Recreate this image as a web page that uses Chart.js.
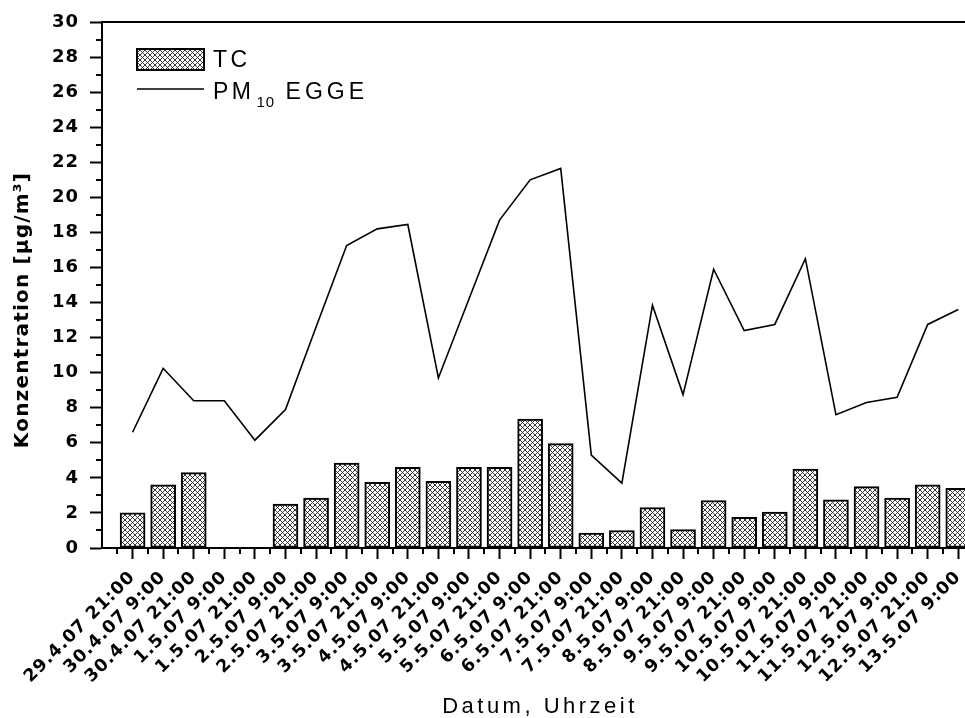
<!DOCTYPE html>
<html>
<head>
<meta charset="utf-8">
<script src="https://cdn.jsdelivr.net/npm/chart.js@4/dist/chart.umd.min.js"></script>
<style>
  html, body { margin: 0; padding: 0; background: #fff; overflow: hidden; }
  #c { display: block; }
</style>
</head>
<body>
<canvas id="c" width="965" height="718"></canvas>
<script>
// ---- data ----
const categories = [
  '29.4.07 21:00', '30.4.07 9:00', '30.4.07 21:00', '1.5.07 9:00', '1.5.07 21:00',
  '2.5.07 9:00', '2.5.07 21:00', '3.5.07 9:00', '3.5.07 21:00', '4.5.07 9:00',
  '4.5.07 21:00', '5.5.07 9:00', '5.5.07 21:00', '6.5.07 9:00', '6.5.07 21:00',
  '7.5.07 9:00', '7.5.07 21:00', '8.5.07 9:00', '8.5.07 21:00', '9.5.07 9:00',
  '9.5.07 21:00', '10.5.07 9:00', '10.5.07 21:00', '11.5.07 9:00', '11.5.07 21:00',
  '12.5.07 9:00', '12.5.07 21:00', '13.5.07 9:00'
];
const tcValues = [
  2.0, 3.6, 4.3, 0, 0,
  2.5, 2.85, 4.85, 3.75, 4.6,
  3.8, 4.6, 4.6, 7.35, 5.95,
  0.85, 1.0, 2.3, 1.05, 2.7,
  1.75, 2.05, 4.5, 2.75, 3.5,
  2.85, 3.6, 3.4
];
const pm10Values = [
  6.6, 10.25, 8.4, 8.4, 6.15,
  7.9, 12.6, 17.25, 18.2, 18.45,
  9.7, 14.2, 18.7, 21.0, 21.65,
  5.3, 3.7, 13.85, 8.75, 15.9,
  12.4, 12.75, 16.5, 7.6, 8.3,
  8.6, 12.75, 13.6
];
const yTicks = [0, 2, 4, 6, 8, 10, 12, 14, 16, 18, 20, 22, 24, 26, 28, 30];
const seriesNames = ['TC', 'PM10 EGGE'];
const xTitle = 'Datum, Uhrzeit';
const yTitle = 'Konzentration [µg/m³]';

// ---- hatch pattern ----
function makeHatch() {
  const s = 5;
  const pc = document.createElement('canvas');
  pc.width = s; pc.height = s;
  const p = pc.getContext('2d');
  p.fillStyle = '#fff';
  p.fillRect(0, 0, s, s);
  p.strokeStyle = '#222';
  p.lineWidth = 0.9;
  p.beginPath();
  p.moveTo(-1, -1); p.lineTo(s + 1, s + 1);
  p.moveTo(s + 1, -1); p.lineTo(-1, s + 1);
  p.stroke();
  return p.createPattern(pc, 'repeat');
}
const ctx = document.getElementById('c').getContext('2d');
const hatch = makeHatch();

const BOLD = '"DejaVu Sans", sans-serif';
const NORMAL = '"Liberation Sans", Arial, sans-serif';

const decorPlugin = {
  id: 'decor',
  beforeLayout(chart) { chart.ctx.letterSpacing = '1px'; },
  beforeDraw(chart) { chart.ctx.letterSpacing = '1px'; },
  afterDraw(chart) {
    const c = chart.ctx;
    const a = chart.chartArea;
    const xs = chart.scales.x, ys = chart.scales.y;
    c.save();
    c.strokeStyle = '#000';
    c.lineWidth = 2;
    // top frame
    c.beginPath();
    c.moveTo(a.left - 1, a.top);
    c.lineTo(a.right, a.top);
    c.stroke();
    // minor ticks x
    c.beginPath();
    for (let v = -0.5; v <= xs.max; v += 1) {
      const px = Math.round(xs.getPixelForValue(v));
      c.moveTo(px, a.bottom);
      c.lineTo(px, a.bottom + 6);
    }
    // minor ticks y
    for (let v = 1; v < 30; v += 2) {
      const py = Math.round(ys.getPixelForValue(v));
      c.moveTo(a.left, py);
      c.lineTo(a.left - 6, py);
    }
    c.stroke();

    // legend
    const lx = 137, lw = 67;
    c.fillStyle = hatch;
    c.fillRect(lx, 49, lw, 21);
    c.lineWidth = 2;
    c.strokeRect(lx, 49, lw, 21);
    c.beginPath();
    c.lineWidth = 1.5;
    c.moveTo(lx, 89);
    c.lineTo(lx + lw, 89);
    c.stroke();
    c.fillStyle = '#000';
    c.textBaseline = 'alphabetic';
    c.textAlign = 'left';
    c.letterSpacing = '3.5px';
    c.font = '23px ' + NORMAL;
    c.fillText(seriesNames[0], 213, 67);
    const parts = ['PM', '10', ' EGGE'];
    let x = 213;
    c.fillText(parts[0], x, 99);
    x += c.measureText(parts[0]).width + 2;
    c.font = '15px ' + NORMAL;
    c.letterSpacing = '1px';
    c.fillText(parts[1], x, 107);
    x += c.measureText(parts[1]).width;
    c.font = '23px ' + NORMAL;
    c.letterSpacing = '4px';
    c.fillText(parts[2], x, 99);

    // x title
    c.font = '22px ' + NORMAL;
    c.letterSpacing = '3.5px';
    c.textAlign = 'center';
    c.fillText(xTitle, 540, 713);

    // y title
    c.save();
    c.translate(23, 310);
    c.rotate(-Math.PI / 2);
    c.font = 'bold 20px ' + BOLD;
    c.letterSpacing = '1.2px';
    c.textAlign = 'center';
    c.textBaseline = 'middle';
    c.fillText(yTitle, 0, 0);
    c.restore();

    c.restore();
  }
};

new Chart(ctx, {
  data: {
    datasets: [
      {
        type: 'line',
        label: seriesNames[1],
        data: pm10Values.map((v, i) => ({ x: i, y: v })),
        borderColor: '#000',
        borderWidth: 1.6,
        pointRadius: 0,
        tension: 0,
        fill: false,
        order: 0
      },
      {
        type: 'bar',
        label: seriesNames[0],
        data: tcValues.map((v, i) => ({ x: i, y: v })),
        backgroundColor: hatch,
        borderColor: '#000',
        borderWidth: 2,
        borderSkipped: false,
        barThickness: 25,
        order: 1
      }
    ]
  },
  options: {
    responsive: false,
    animation: false,
    layout: { padding: { top: 22, right: 0, left: 0, bottom: 0 } },
    plugins: {
      legend: { display: false },
      tooltip: { enabled: false },
      title: { display: false }
    },
    scales: {
      x: {
        type: 'linear',
        offset: false,
        min: -1,
        max: 27.22,
        afterBuildTicks(scale) {
          scale.ticks = categories.map((c, i) => ({ value: i }));
        },
        afterFit(scale) {
          scale.height = 170;
          scale.paddingLeft = 0;
          scale.paddingRight = 0;
        },
        ticks: {
          autoSkip: false,
          maxRotation: 45,
          minRotation: 45,
          padding: 8,
          color: '#000',
          font: { family: BOLD, weight: 'bold', size: 17.5 },
          callback: (v) => categories[v]
        },
        grid: {
          offset: false,
          drawOnChartArea: false,
          drawTicks: true,
          tickLength: 11,
          tickWidth: 2,
          tickColor: '#000'
        },
        border: { display: true, color: '#000', width: 2 },
        title: { display: false }
      },
      y: {
        min: 0,
        max: 30,
        afterBuildTicks(scale) {
          scale.ticks = yTicks.map(v => ({ value: v }));
        },
        afterFit(scale) {
          scale.width = 102;
          scale.paddingTop = 0;
          scale.paddingBottom = 0;
        },
        ticks: {
          padding: 11,
          color: '#000',
          font: { family: BOLD, weight: 'bold', size: 18 }
        },
        grid: {
          drawOnChartArea: false,
          drawTicks: true,
          tickLength: 12,
          tickWidth: 2,
          tickColor: '#000'
        },
        border: { display: true, color: '#000', width: 2 },
        title: { display: false }
      }
    }
  },
  plugins: [decorPlugin]
});
</script>
</body>
</html>
